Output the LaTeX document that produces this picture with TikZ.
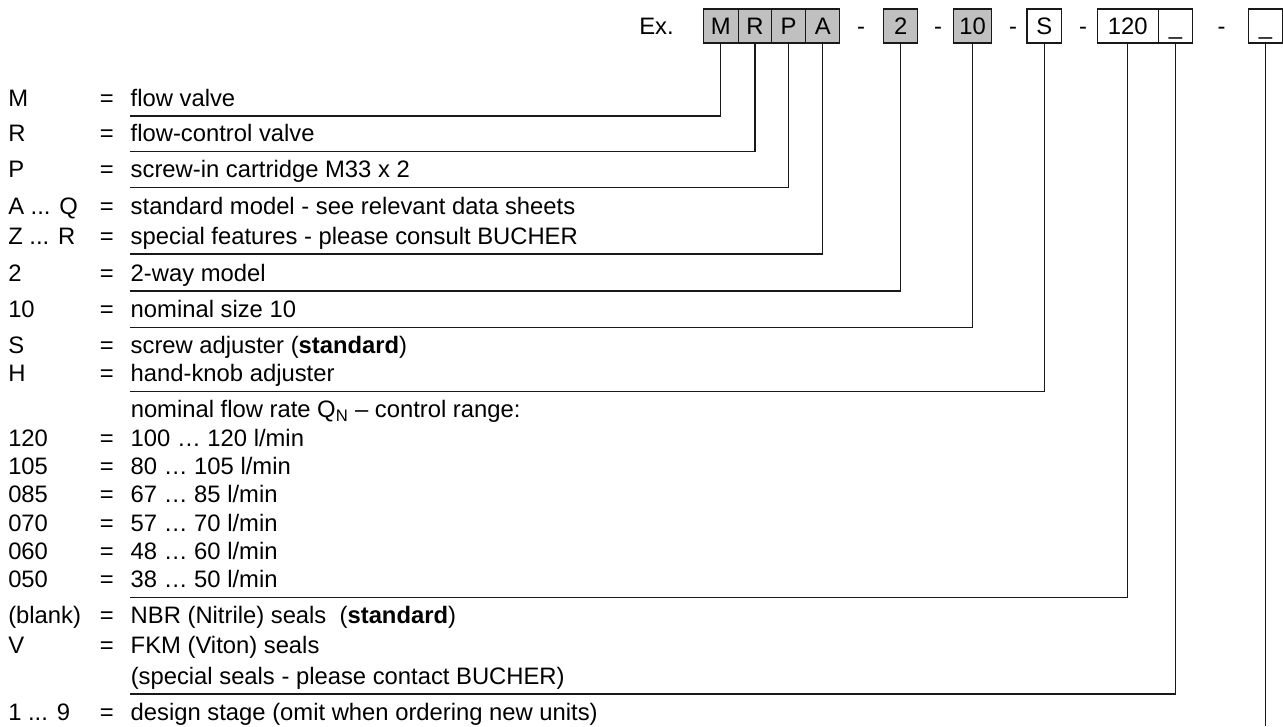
\documentclass[tikz,border=0pt]{standalone}
\usepackage{fontspec}
\setmainfont{Liberation Sans}
\usepackage{tikz}
\usetikzlibrary{positioning}
\definecolor{CellGray}{RGB}{192,192,192}
\definecolor{LeadInk}{RGB}{25,25,25}
\newcommand{\coderow}[2]{\makebox[68.66pt][l]{#1}\makebox[23.2pt][l]{=}#2}
\tikzset{
	txt/.style={font=\fontsize{17.85}{21}\selectfont,inner sep=0pt,anchor=base west},
	sepmark/.style={font=\fontsize{17.85}{21}\selectfont,inner sep=0pt,anchor=base},
	cell/.style={draw=LeadInk,line width=0.8pt,fill=white,inner sep=0pt,outer sep=0pt,
		minimum width=25.8pt,minimum height=25.5pt,text height=12.75pt,text depth=0pt,
		font=\fontsize{17.85}{21}\selectfont},
	gcell/.style={cell,fill=CellGray},
	lead/.style={draw=LeadInk,line width=0.95pt},
}
\begin{document}
\begin{tikzpicture}[x=0.75pt,y=-0.75pt]
	\useasboundingbox (0,0) rectangle (1283,726);
	\node[txt] (ex) at (639,34.5) {Ex.};
	\node[gcell,minimum width=26.25pt] (cM) at (720.8,26) {M};
	\node[gcell,minimum width=25pt,right=0pt of cM] (cR) {R};
	\node[gcell,minimum width=25.5pt,right=0pt of cR] (cP) {P};
	\node[gcell,minimum width=25.7pt,right=0pt of cP] (cA) {A};
	\node[sepmark] (d1) at (861,34.5) {-};
	\node[gcell] (c2) at (900.7,26) {2};
	\node[sepmark] (d2) at (938,34.5) {-};
	\node[gcell,minimum width=28.8pt] (c10) at (972.5,26) {10};
	\node[sepmark] (d3) at (1013,34.5) {-};
	\node[cell] (cS) at (1044.2,26) {S};
	\node[sepmark] (d4) at (1083,34.5) {-};
	\node[cell,minimum width=45.75pt] (c120) at (1127.8,26) {120};
	\node[cell,right=0pt of c120] (cSeal) {\_};
	\node[sepmark] (d5) at (1221.7,34.5) {-};
	\node[cell] (cStage) at (1265.6,26) {\_};

	\node[txt] (rM) at (8,106) {\coderow{M}{flow valve}};
	\node[txt] (rR) at (8,141.7) {\coderow{R}{flow-control valve}};
	\node[txt] (rP) at (8,177.3) {\coderow{P}{screw-in cartridge M33 x 2}};
	\node[txt] (rAQ) at (8,214.5) {\coderow{A ... Q}{standard model - see relevant data sheets}};
	\node[txt] (rZR) at (8,244) {\coderow{Z ... R}{special features - please consult BUCHER}};
	\node[txt] (r2) at (8,281) {\coderow{2}{2-way model}};
	\node[txt] (r10) at (8,317.3) {\coderow{10}{nominal size 10}};
	\node[txt] (rS) at (8,353.3) {\coderow{S}{screw adjuster (\textbf{standard})}};
	\node[txt] (rH) at (8,381.7) {\coderow{H}{hand-knob adjuster}};
	\node[txt] (rQN) at (130.5,417.7) {nominal flow rate Q\textsubscript{N} -- control range:};
	\node[txt] (r120) at (8,446) {\coderow{120}{100 … 120 l/min}};
	\node[txt] (r105) at (8,474.4) {\coderow{105}{80 … 105 l/min}};
	\node[txt] (r085) at (8,502.7) {\coderow{085}{67 … 85 l/min}};
	\node[txt] (r070) at (8,531) {\coderow{070}{57 … 70 l/min}};
	\node[txt] (r060) at (8,559.4) {\coderow{060}{48 … 60 l/min}};
	\node[txt] (r050) at (8,587.7) {\coderow{050}{38 … 50 l/min}};
	\node[txt] (rNBR) at (8,623.7) {\coderow{(blank)}{NBR (Nitrile) seals\ \ (\textbf{standard})}};
	\node[txt] (rV) at (8,653.9) {\coderow{V}{FKM (Viton) seals}};
	\node[txt] (rSpec) at (130.5,684) {(special seals - please contact BUCHER)};
	\node[txt] (rStage) at (8,720) {\coderow{1 ... 9}{design stage (omit when ordering new units)}};

	\coordinate (eM) at (130,116);
	\coordinate (eR) at (130,151.7);
	\coordinate (eP) at (130,187.3);
	\coordinate (eA) at (130,254);
	\coordinate (e2) at (130,291);
	\coordinate (e10) at (130,327.3);
	\coordinate (eS) at (130,391.7);
	\coordinate (e120) at (130,597.7);
	\coordinate (eSeal) at (130,694);
	\coordinate (eStage) at (1265.6,726);
	\draw[lead] (cM.south) |- (eM);
	\draw[lead] (cR.south) |- (eR);
	\draw[lead] (cP.south) |- (eP);
	\draw[lead] (cA.south) |- (eA);
	\draw[lead] (c2.south) |- (e2);
	\draw[lead] (c10.south) |- (e10);
	\draw[lead] (cS.south) |- (eS);
	\draw[lead] (c120.south) |- (e120);
	\draw[lead] (cSeal.south) |- (eSeal);
	\draw[lead] (cStage.south) -- (eStage);
\end{tikzpicture}
\end{document}
